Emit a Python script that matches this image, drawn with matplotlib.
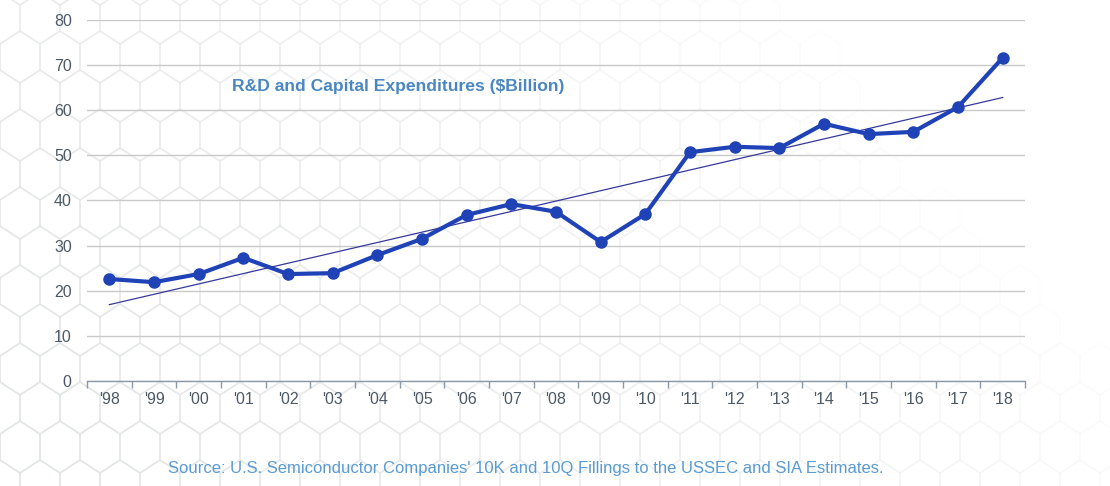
import numpy as np
import matplotlib
matplotlib.use("Agg")
import matplotlib.pyplot as plt
from matplotlib.ticker import FixedLocator
from matplotlib.collections import PolyCollection

plt.rcParams['font.family'] = ['Liberation Sans', 'DejaVu Sans']

years = ["'98", "'99", "'00", "'01", "'02", "'03", "'04", "'05", "'06", "'07", "'08",
         "'09", "'10", "'11", "'12", "'13", "'14", "'15", "'16", "'17", "'18"]
spending = [22.6, 21.9, 23.7, 27.3, 23.7, 23.9, 27.9, 31.5, 36.8, 39.2, 37.5,
            30.8, 37.0, 50.7, 51.9, 51.6, 57.0, 54.7, 55.2, 60.7, 71.6]
y_ticks = [0, 10, 20, 30, 40, 50, 60, 70, 80]

title = "R&D and Capital Expenditures ($Billion)"
source = "Source: U.S. Semiconductor Companies' 10K and 10Q Fillings to the USSEC and SIA Estimates."

fig = plt.figure(figsize=(11.1, 4.86), dpi=100)
fig.patch.set_facecolor('white')

# faint honeycomb texture behind the chart, fading toward the upper right
bg = fig.add_axes([0, 0, 1, 1], zorder=-10)
bg.set_xlim(0, 1110)
bg.set_ylim(0, 486)
bg.axis('off')
hw, hh = 40.0, 52.0
unit = np.array([(0, hh / 2), (hw / 2, hh / 4), (hw / 2, -hh / 4),
                 (0, -hh / 2), (-hw / 2, -hh / 4), (-hw / 2, hh / 4)])
cells, colors = [], []
for row, cy in enumerate(np.arange(0, 486 + hh, hh * 0.75)):
    off = hw / 2 if row % 2 else 0
    for cx in np.arange(-hw, 1110 + hw, hw):
        fade = 1.0 - (cx / 1110) * 0.85 - (cy / 486) * 0.35
        fade = float(np.clip(fade, 0.0, 1.0)) * 0.55
        if fade < 0.04:
            continue
        cells.append(unit + (cx + off, cy))
        colors.append((0.86, 0.87, 0.88, fade))
bg.add_collection(PolyCollection(cells, facecolors='none', edgecolors=colors, linewidths=1.2))

ax = fig.add_axes([0.0784, 0.216, 0.845, 0.743])
ax.set_facecolor('none')

x = np.arange(len(years))
y = np.array(spending)

# linear trend line
slope, intercept = np.polyfit(x, y, 1)
ax.plot(x, slope * x + intercept, color='#36399a', lw=0.9, zorder=3)

ax.plot(x, y, color='#1f43b6', lw=3, marker='o', ms=8,
        markerfacecolor='#1f43b6', markeredgecolor='#1f43b6', zorder=4)

ax.set_xlim(-0.5, len(years) - 0.5)
ax.set_ylim(0, 80)
ax.set_yticks(y_ticks)
ax.yaxis.grid(True, color='#c9c9c9', lw=1)
ax.set_axisbelow(True)

ax.set_xticks(x)
ax.set_xticklabels(years)
ax.xaxis.set_minor_locator(FixedLocator(np.arange(-0.5, len(years), 1.0)))
ax.tick_params(axis='x', which='major', length=0, pad=8, labelsize=11.5, labelcolor='#4d5966')
ax.tick_params(axis='x', which='minor', length=5, width=1, color='#8a98a8', direction='out')
ax.tick_params(axis='y', length=0, pad=11, labelsize=11.5, labelcolor='#4d5966')

for side in ['top', 'right', 'left']:
    ax.spines[side].set_visible(False)
ax.spines['bottom'].set_color('#8a98a8')
ax.spines['bottom'].set_linewidth(1)

ax.text(0.155, 0.815, title, transform=ax.transAxes, fontsize=12.6, fontweight='bold',
        color='#4a87c2', ha='left', va='center')

fig.text(0.474, 0.035, source, fontsize=12, color='#5a9bd3', ha='center', va='center')

fig.savefig('out.png', dpi=100, facecolor=fig.get_facecolor())
